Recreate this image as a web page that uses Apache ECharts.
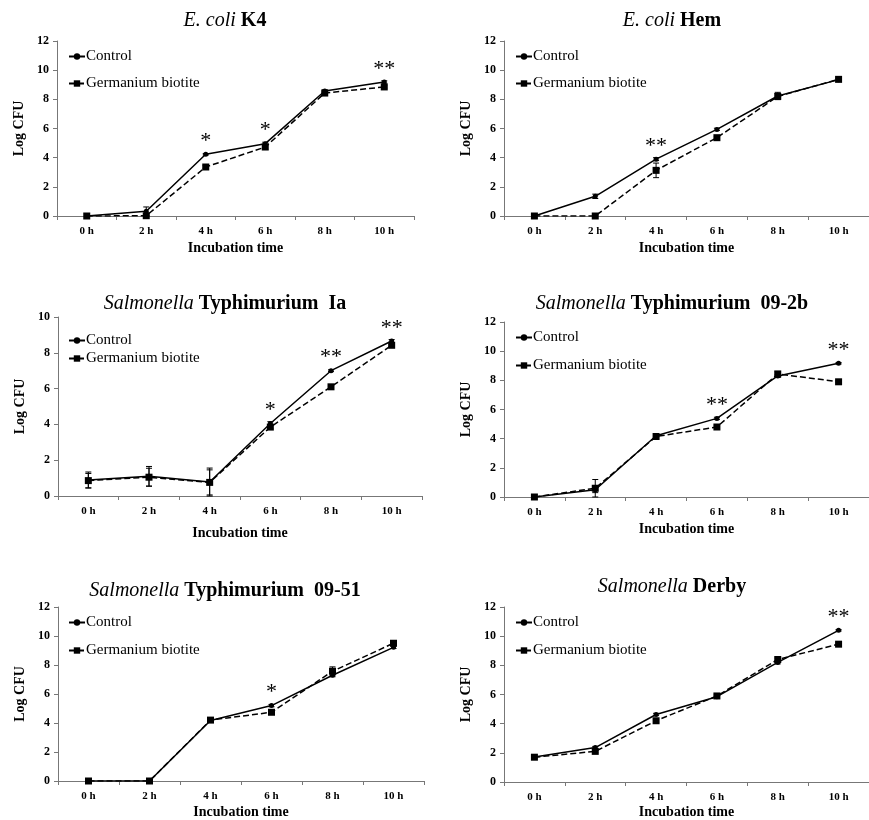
<!DOCTYPE html>
<html>
<head>
<meta charset="utf-8">
<script src="https://cdn.jsdelivr.net/npm/echarts@6/dist/echarts.min.js"></script>
<style>html,body{margin:0;padding:0;background:#fff}#c{width:869px;height:820px}</style>
</head>
<body>
<div id="c"></div>
<script>
const categories = ['0 h', '2 h', '4 h', '6 h', '8 h', '10 h'];
const yTicks = [[0, 12, 2], [0, 12, 2], [0, 10, 2], [0, 12, 2], [0, 12, 2], [0, 12, 2]];

const titleItalic = ['E. coli', 'E. coli', 'Salmonella', 'Salmonella', 'Salmonella', 'Salmonella'];
const titleBold = ['K4', 'Hem', 'Typhimurium  Ia', 'Typhimurium  09-2b', 'Typhimurium  09-51', 'Derby'];

const control1 = [0, 0.32, 4.23, 4.96, 8.57, 9.19];
const germ1    = [0, 0.02, 3.36, 4.73, 8.43, 8.85];
const control2 = [0, 1.35, 3.90, 5.94, 8.23, 9.35];
const germ2    = [0, 0, 3.13, 5.37, 8.20, 9.37];
const control3 = [0.89, 1.10, 0.78, 4.05, 7.00, 8.66];
const germ3    = [0.86, 1.05, 0.76, 3.85, 6.10, 8.42];
const control4 = [0, 0.50, 4.20, 5.39, 8.30, 9.17];
const germ4    = [0, 0.60, 4.15, 4.80, 8.44, 7.90];
const control5 = [0, 0, 4.17, 5.20, 7.29, 9.22];
const germ5    = [0, 0, 4.20, 4.74, 7.57, 9.50];
const control6 = [1.72, 2.36, 4.63, 5.85, 8.20, 10.40];
const germ6    = [1.70, 2.10, 4.20, 5.90, 8.40, 9.45];

const controlErr1 = [0, 0.30, 0.05, 0.10, 0.08, 0.08];
const germErr1    = [0, 0.05, 0.10, 0.15, 0.08, 0.08];
const controlErr2 = [0, 0.15, 0.10, 0.08, 0.25, 0.05];
const germErr2    = [0, 0, 0.50, 0.08, 0.20, 0.08];
const controlErr3 = [0.45, 0.55, 0.78, 0.10, 0.05, 0.08];
const germErr3    = [0.40, 0.50, 0.70, 0.10, 0.05, 0.05];
const controlErr4 = [0, 0.20, 0.05, 0.08, 0.10, 0.05];
const germErr4    = [0, 0.60, 0.05, 0.08, 0.15, 0.08];
const controlErr5 = [0, 0, 0.08, 0.08, 0.10, 0.08];
const germErr5    = [0, 0, 0.08, 0.10, 0.30, 0.10];
const controlErr6 = [0.05, 0.08, 0.08, 0.08, 0.10, 0.05];
const germErr6    = [0.05, 0.10, 0.10, 0.10, 0.10, 0.08];

const stars1 = ['', '', '*', '*', '', '**'];
const stars2 = ['', '', '**', '', '', ''];
const stars3 = ['', '', '', '*', '**', '**'];
const stars4 = ['', '', '', '**', '', '**'];
const stars5 = ['', '', '', '*', '', ''];
const stars6 = ['', '', '', '', '', '**'];

const controls = [control1, control2, control3, control4, control5, control6];
const germs = [germ1, germ2, germ3, germ4, germ5, germ6];
const controlErrs = [controlErr1, controlErr2, controlErr3, controlErr4, controlErr5, controlErr6];
const germErrs = [germErr1, germErr2, germErr3, germErr4, germErr5, germErr6];
const stars = [stars1, stars2, stars3, stars4, stars5, stars6];

// layout (pixels)
const grids = [
  {left: 57, top: 41, width: 357, height: 175},
  {left: 504, top: 41, width: 370, height: 175},
  {left: 58, top: 317, width: 364, height: 179},
  {left: 504, top: 322, width: 370, height: 175},
  {left: 58, top: 607, width: 366, height: 175},
  {left: 504, top: 607, width: 370, height: 175}
];
const titlePos = [[220, 6], [667, 6], [220, 289], [667, 289], [220, 576], [667, 572]];
const legendPos = [[68, 49, 12], [515, 49, 12], [68, 333, 3], [515, 330, 13], [68, 615, 13], [515, 615, 13]];
const xNameGap = [25, 25, 30, 25, 24, 23];

const FONT = 'Liberation Serif';
const option = {
  animation: false,
  backgroundColor: '#fff',
  title: [], legend: [], grid: [], xAxis: [], yAxis: [], series: []
};

function errSeries(k, vals, errs) {
  return {
    type: 'custom', name: 'err', xAxisIndex: k, yAxisIndex: k, silent: true, z: 1,
    data: vals.map((v, i) => [i, v, errs[i]]),
    renderItem: function (params, api) {
      const x = api.value(0), y = api.value(1), e = api.value(2);
      if (!e) return null;
      const top = api.coord([x, y + e]);
      const bot = api.coord([x, Math.max(0, y - e)]);
      const w = 3;
      const st = {stroke: '#000', lineWidth: 1};
      return {type: 'group', children: [
        {type: 'line', shape: {x1: top[0], y1: top[1], x2: bot[0], y2: bot[1]}, style: st},
        {type: 'line', shape: {x1: top[0] - w, y1: top[1], x2: top[0] + w, y2: top[1]}, style: st},
        {type: 'line', shape: {x1: bot[0] - w, y1: bot[1], x2: bot[0] + w, y2: bot[1]}, style: st}
      ]};
    }
  };
}

for (let k = 0; k < 6; k++) {
  option.title.push({
    text: '{i|' + titleItalic[k] + '} {b|' + titleBold[k] + '}',
    left: titlePos[k][0], top: titlePos[k][1], textAlign: 'center',
    textStyle: {
      fontFamily: FONT, fontSize: 20,
      rich: {
        i: {fontFamily: FONT, fontSize: 20, fontStyle: 'italic', fontWeight: 'normal', color: '#000'},
        b: {fontFamily: FONT, fontSize: 20, fontWeight: 'bold', color: '#000'}
      }
    }
  });
  option.legend.push({
    orient: 'vertical', left: legendPos[k][0], top: legendPos[k][1], itemGap: legendPos[k][2],
    itemWidth: 16, itemHeight: 8, padding: 0,
    data: ['Control', 'Germanium biotite'],
    textStyle: {fontFamily: FONT, fontSize: 15, color: '#000', padding: [0, 0, 0, -4]}
  });
  option.grid.push(grids[k]);
  option.xAxis.push({
    type: 'category', gridIndex: k, data: categories,
    name: 'Incubation time', nameLocation: 'middle', nameGap: xNameGap[k],
    nameTextStyle: {fontFamily: FONT, fontSize: 14, fontWeight: 'bold', color: '#000'},
    axisLine: {lineStyle: {color: '#777', width: 1}},
    axisTick: {show: true, length: 4, lineStyle: {color: '#777'}},
    axisLabel: {fontFamily: FONT, fontSize: 11, fontWeight: 'bold', color: '#000', margin: 10},
    splitLine: {show: false}
  });
  option.yAxis.push({
    type: 'value', gridIndex: k, min: yTicks[k][0], max: yTicks[k][1], interval: yTicks[k][2],
    name: 'Log CFU', nameLocation: 'middle', nameGap: 31, nameRotate: 90,
    nameTextStyle: {fontFamily: FONT, fontSize: 14, fontWeight: 'bold', color: '#000'},
    axisLine: {show: true, lineStyle: {color: '#777', width: 1}},
    axisTick: {show: true, length: 4, lineStyle: {color: '#777'}},
    axisLabel: {fontFamily: FONT, fontSize: 12, fontWeight: 'bold', color: '#000', margin: 8},
    splitLine: {show: false}
  });
  option.series.push(errSeries(k, controls[k], controlErrs[k]));
  option.series.push(errSeries(k, germs[k], germErrs[k]));
  option.series.push({
    type: 'line', name: 'Germanium biotite', xAxisIndex: k, yAxisIndex: k, z: 2,
    data: germs[k], symbol: 'rect', symbolSize: 7,
    itemStyle: {color: '#000'},
    lineStyle: {color: '#000', width: 1.5, type: [6, 3]}
  });
  option.series.push({
    type: 'line', name: 'Control', xAxisIndex: k, yAxisIndex: k, z: 3,
    data: controls[k], symbol: 'circle', symbolSize: 5,
    itemStyle: {color: '#000'},
    lineStyle: {color: '#000', width: 1.5}
  });
  const st = stars[k];
  option.series.push({
    type: 'custom', name: 'stars', xAxisIndex: k, yAxisIndex: k, silent: true, z: 4,
    data: controls[k].map((v, i) => [i, Math.max(v, germs[k][i])]),
    renderItem: function (params, api) {
      const s = st[params.dataIndex];
      if (!s) return null;
      const p = api.coord([api.value(0), api.value(1)]);
      return {type: 'text', style: {text: s, x: p[0], y: p[1] - 2, align: 'center', verticalAlign: 'bottom',
        font: '22px "Liberation Serif"', fill: '#000'}};
    }
  });
}

const chart = echarts.init(document.getElementById('c'), null, {renderer: 'canvas'});
chart.setOption(option);
</script>
</body>
</html>
